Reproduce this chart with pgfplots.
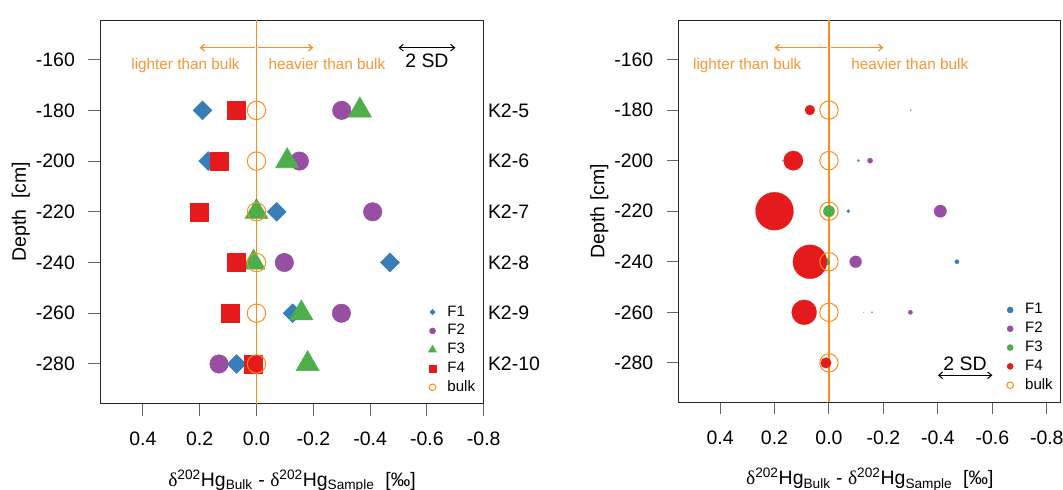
\documentclass[border=0pt]{standalone}
\usepackage{pgfplots}
\pgfplotsset{compat=1.18}
\usepackage{pgfplotstable}
\usepackage{fontspec}
\setmainfont{Liberation Sans}
\newfontfamily\seriffont{Liberation Serif}
\usetikzlibrary{arrows.meta}
\definecolor{cF1}{RGB}{55,126,184}
\definecolor{cF2}{RGB}{152,78,163}
\definecolor{cF3}{RGB}{77,175,74}
\definecolor{cF4}{RGB}{228,26,28}
\definecolor{cOr}{RGB}{255,140,26}
\definecolor{cOrT}{RGB}{248,150,50}

% x = delta202Hg(bulk) - delta202Hg(sample), y = depth, r = bubble radius (pt)
\pgfplotstableread{
x y r
0.19 -180 0
0.17 -200 0.4
-0.071 -220 1.3
-0.47 -240 1.65
-0.127 -260 0.15
0.07 -280 0
}\Fone
\pgfplotstableread{
x y r
-0.30 -180 0.45
-0.151 -200 2.0
-0.409 -220 4.7
-0.098 -240 4.5
-0.299 -260 1.65
0.132 -280 0
}\Ftwo
\pgfplotstableread{
x y r
-0.364 -180 0
-0.108 -200 0.95
0.0 -220 4.3
0.01 -240 2.8
-0.158 -260 0.6
-0.18 -280 0
}\Fthree
\pgfplotstableread{
x y r
0.07 -180 3.75
0.131 -200 7.3
0.20 -220 14.25
0.07 -240 12.75
0.091 -260 9.4
0.011 -280 4.0
}\Ffour
\pgfplotstableread{
x y
0 -180
0 -200
0 -220
0 -240
0 -260
0 -280
}\Bulk

\newcommand{\tfont}{\fontsize{14.6}{17}\selectfont}
\newcommand{\lfont}{\fontsize{11.3}{13}\selectfont}
\newcommand{\ofont}{\fontsize{11.5}{13}\selectfont}
\newcommand{\xlab}{{\seriffont δ}\textsuperscript{202}Hg\textsubscript{Bulk} - {\seriffont δ}\textsuperscript{202}Hg\textsubscript{Sample}~~[‰]}

\pgfplotsset{
  common/.style={
    scale only axis, anchor=south west, clip=false,
    x dir=reverse, ymin=-295.6, ymax=-144.4,
    xtick={0.4,0.2,0,-0.2,-0.4,-0.6,-0.8},
    xticklabels={0.4,0.2,0.0,-0.2,-0.4,-0.6,-0.8},
    ytick={-280,-260,-240,-220,-200,-180,-160},
    yticklabels={-280,-260,-240,-220,-200,-180,-160},
    xtick pos=lower, ytick pos=left,
    tick align=outside, major tick length=9pt,
    tick style={black!60, line width=0.75pt},
    axis line style={black!85, line width=0.75pt},
    ticklabel style={font=\tfont},
    xticklabel style={anchor=north, yshift=-9pt},
    yticklabel style={anchor=east, xshift=-6.5pt},
    legend style={draw=none, fill=none, font=\lfont, inner sep=0pt,
      row sep=2.1pt, column sep=6.2pt,
      nodes={inner sep=1pt, text height=8pt, text depth=2pt}},
    legend cell align=left,
    legend image code/.code={\draw[#1] plot coordinates {(0pt,0pt)}; \path[draw=none,fill=none] (-4pt,-4pt) rectangle (4pt,4pt);},
  },
  bub/.style={forget plot, scatter, only marks, mark=*,
    scatter/use mapped color={draw=#1, fill=#1},
    mark options={line width=0.1pt},
    visualization depends on={\thisrow{r} \as \rr},
    scatter/@pre marker code/.append style={/tikz/mark size=\rr}},
}

\begin{document}
\begin{tikzpicture}
\useasboundingbox (0,0) rectangle (797.25pt,366.75pt);
% ---------------- left panel ----------------
\begin{axis}[common, at={(75.2pt,64.1pt)}, width=287.6pt, height=287.6pt,
  xmin=-0.8, xmax=0.55,
  legend style={at={(axis cs:-0.6,-256.3)}, anchor=north west}]
\addlegendimage{only marks, mark=square*, mark options={rotate=45}, mark size=1.4pt, color=cF1}
\addlegendentry{F1}
\addlegendimage{only marks, mark=*, mark size=2.25pt, color=cF2}
\addlegendentry{F2}
\addlegendimage{only marks, mark=triangle*, mark size=3.4pt, color=cF3}
\addlegendentry{F3}
\addlegendimage{only marks, mark=square*, mark size=2.5pt, color=cF4}
\addlegendentry{F4}
\addlegendimage{only marks, mark=o, mark size=2.5pt, color=cOr, line width=0.75pt}
\addlegendentry{bulk}
\addplot[forget plot, only marks, mark=*, mark size=6.9pt, color=cF2] table[x=x,y=y] {\Ftwo};
\addplot[forget plot, only marks, mark=square*, mark size=5pt, mark options={rotate=45}, color=cF1] table[x=x,y=y] {\Fone};
\addplot[forget plot, only marks, mark=triangle*, mark size=10pt, color=cF3] table[x=x,y=y] {\Fthree};
\addplot[forget plot, only marks, mark=square*, mark size=6.75pt, color=cF4] table[x=x,y=y] {\Ffour};
\addplot[forget plot, only marks, mark=o, mark size=6.9pt, color=cOr, line width=0.75pt] table[x=x,y=y] {\Bulk};
\addplot[forget plot, cOr, line width=1pt] coordinates {(0,-295.6) (0,-144.4)};
% annotations
\draw[cOr, line width=0.9pt, -{Straight Barb[length=3pt,width=5pt]}] (axis cs:0.006,-155.3) -- (axis cs:0.2,-155.3);
\draw[cOr, line width=0.9pt, -{Straight Barb[length=3pt,width=5pt]}] (axis cs:-0.006,-155.3) -- (axis cs:-0.2,-155.3);
\node[cOrT, font=\ofont, anchor=base] at (axis cs:0.25,-164) {lighter than bulk};
\node[cOrT, font=\ofont, anchor=base] at (axis cs:-0.248,-164) {heavier than bulk};
\draw[black, line width=0.75pt, {Straight Barb[length=3pt,width=5pt]}-{Straight Barb[length=3pt,width=5pt]}] (axis cs:-0.5,-155.3) -- (axis cs:-0.7,-155.3);
\node[font=\tfont, anchor=base] at (axis cs:-0.6,-163) {2 SD};
\node[font=\tfont, anchor=west, inner sep=0pt] at ([xshift=3pt]axis cs:-0.8,-180) {K2-5};
\node[font=\tfont, anchor=west, inner sep=0pt] at ([xshift=3pt]axis cs:-0.8,-200) {K2-6};
\node[font=\tfont, anchor=west, inner sep=0pt] at ([xshift=3pt]axis cs:-0.8,-220) {K2-7};
\node[font=\tfont, anchor=west, inner sep=0pt] at ([xshift=3pt]axis cs:-0.8,-240) {K2-8};
\node[font=\tfont, anchor=west, inner sep=0pt] at ([xshift=3pt]axis cs:-0.8,-260) {K2-9};
\node[font=\tfont, anchor=west, inner sep=0pt] at ([xshift=3pt]axis cs:-0.8,-280) {K2-10};
\node[font=\tfont, anchor=base] at ([yshift=-61.9pt]rel axis cs:0.5,0) {\xlab};
\node[font=\tfont, anchor=base, rotate=90] at ([xshift=-55.7pt]rel axis cs:0,0.5) {Depth~~[cm]};
\end{axis}
% ---------------- right panel ----------------
\begin{axis}[common, at={(509.0pt,65.0pt)}, width=286.7pt, height=286.7pt,
  xmin=-0.852, xmax=0.552,
  legend style={at={(axis cs:-0.645,-255.8)}, anchor=north west}]
\addlegendimage{only marks, mark=*, mark size=2.25pt, color=cF1}
\addlegendentry{F1}
\addlegendimage{only marks, mark=*, mark size=2.25pt, color=cF2}
\addlegendentry{F2}
\addlegendimage{only marks, mark=*, mark size=2.25pt, color=cF3}
\addlegendentry{F3}
\addlegendimage{only marks, mark=*, mark size=2.25pt, color=cF4}
\addlegendentry{F4}
\addlegendimage{only marks, mark=o, mark size=2.5pt, color=cOr, line width=0.75pt}
\addlegendentry{bulk}
\addplot[bub=cF1] table[x=x,y=y] {\Fone};
\addplot[bub=cF2] table[x=x,y=y] {\Ftwo};
\addplot[bub=cF3] table[x=x,y=y] {\Fthree};
\addplot[bub=cF4] table[x=x,y=y] {\Ffour};
\addplot[forget plot, only marks, mark=o, mark size=6.9pt, color=cOr, line width=0.75pt] table[x=x,y=y] {\Bulk};
\addplot[forget plot, cOr, line width=1pt] coordinates {(0,-295.6) (0,-144.4)};
\draw[cOr, line width=0.9pt, -{Straight Barb[length=3pt,width=5pt]}] (axis cs:0.006,-155.3) -- (axis cs:0.2,-155.3);
\draw[cOr, line width=0.9pt, -{Straight Barb[length=3pt,width=5pt]}] (axis cs:-0.006,-155.3) -- (axis cs:-0.2,-155.3);
\node[cOrT, font=\ofont, anchor=base] at (axis cs:0.30,-164) {lighter than bulk};
\node[cOrT, font=\ofont, anchor=base] at (axis cs:-0.297,-164) {heavier than bulk};
\draw[black, line width=0.75pt, {Straight Barb[length=3pt,width=5pt]}-{Straight Barb[length=3pt,width=5pt]}] (axis cs:-0.4,-284.9) -- (axis cs:-0.6,-284.9);
\node[font=\tfont, anchor=base] at (axis cs:-0.5,-283.2) {2 SD};
\node[font=\tfont, anchor=base] at ([yshift=-61.9pt]rel axis cs:0.5,0) {\xlab};
\node[font=\tfont, anchor=base, rotate=90] at ([xshift=-55.7pt]rel axis cs:0,0.5) {Depth [cm]};
\end{axis}
\end{tikzpicture}
\end{document}
